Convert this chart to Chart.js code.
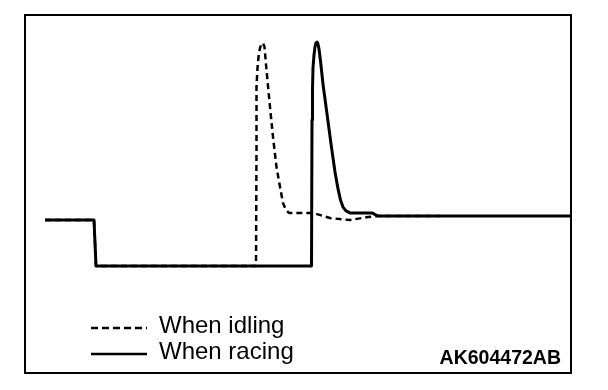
<!DOCTYPE html>
<html>
<head>
<meta charset="utf-8">
<script src="https://cdn.jsdelivr.net/npm/chart.js@4/dist/chart.umd.min.js"></script>
<style>
  html, body { margin: 0; padding: 0; background: #fff; }
  #wrap { position: relative; width: 608px; height: 390px; }
</style>
</head>
<body>
<div id="wrap"><canvas id="grafico" width="608" height="390"></canvas></div>
<script>
// time (arbitrary units) / signal level (arbitrary units)
var racing_x = [0, 9.8, 10.2, 53.3, 53.4, 53.5, 53.6, 53.8, 54, 54.2, 54.4, 54.6, 54.8, 55.1, 55.6, 56.4, 57.2, 58, 58.6, 59.1, 59.6, 60.2, 61, 65.4, 66.6, 105];
var racing_y = [20.5, 20.5, 0, 0, 65.2, 79, 88.4, 94.2, 97.8, 99.6, 100, 99.1, 96.9, 91.5, 81.2, 67.9, 54.5, 42, 34.4, 29.5, 26.3, 24.6, 23.7, 23.7, 22.3, 22.3];

var idling_x = [0, 9.8, 10.2, 42.2, 42.3, 42.3, 42.5, 42.7, 43, 43.3, 43.6, 43.9, 44.3, 45, 45.6, 46.3, 47, 47.6, 48.2, 48.8, 53.6, 57, 61, 64.6, 66.6, 79];
var idling_y = [20.5, 20.5, 0, 0, 51.8, 79.9, 88.4, 93.3, 97.3, 99.1, 99.6, 97.8, 87.5, 71, 57.6, 44.2, 35.3, 28.1, 25, 23.7, 23.7, 21.4, 20.5, 21.9, 22.3, 22.3];

var series_labels = ["When idling", "When racing"];
var figure_code = "AK604472AB";

function puntos(xs, ys) {
    return xs.map(function (x, i) { return { x: x, y: ys[i] }; });
}

var marco = {
    id: "marco",
    afterDraw: function (chart) {
        var ctx = chart.ctx;
        ctx.save();
        ctx.strokeStyle = "#000";
        ctx.lineWidth = 2;
        ctx.strokeRect(25, 15, 546, 358);

        // legend
        ctx.fillStyle = "#000";
        ctx.font = "24px 'Liberation Sans', Arial, sans-serif";
        ctx.textBaseline = "alphabetic";
        var filas = [328, 354];
        chart.data.datasets.forEach(function (ds, i) {
            ctx.beginPath();
            ctx.lineWidth = ds.legendWidth;
            ctx.setLineDash(ds.legendDash);
            ctx.moveTo(91, filas[i]);
            ctx.lineTo(147, filas[i]);
            ctx.stroke();
            ctx.setLineDash([]);
            ctx.fillText(ds.label, 159, filas[i] + 5);
        });

        ctx.font = "bold 19.5px 'Liberation Sans', Arial, sans-serif";
        ctx.textAlign = "right";
        ctx.fillText(figure_code, 561, 364);
        ctx.restore();
    }
};

var ctx = document.getElementById("grafico").getContext("2d");
var myChart = new Chart(ctx, {
    type: "line",
    data: {
        datasets: [{
            label: series_labels[0],
            data: puntos(idling_x, idling_y),
            borderColor: "#000",
            borderWidth: 2.5,
            borderDash: [6, 4],
            legendDash: [7, 4],
            legendWidth: 2.5,
            tension: 0,
            pointRadius: 0,
            borderJoinStyle: "round",
            clip: false
        }, {
            label: series_labels[1],
            data: puntos(racing_x, racing_y),
            borderColor: "#000",
            borderWidth: 3,
            legendDash: [],
            legendWidth: 2.5,
            tension: 0,
            pointRadius: 0,
            borderJoinStyle: "round",
            clip: false
        }]
    },
    options: {
        responsive: false,
        animation: false,
        layout: { padding: { left: 45, right: 38, top: 42, bottom: 124 } },
        plugins: {
            legend: { display: false },
            tooltip: { enabled: false }
        },
        scales: {
            x: { type: "linear", min: 0, max: 105, display: false },
            y: { min: 0, max: 100, display: false }
        }
    },
    plugins: [marco]
});
</script>
</body>
</html>
